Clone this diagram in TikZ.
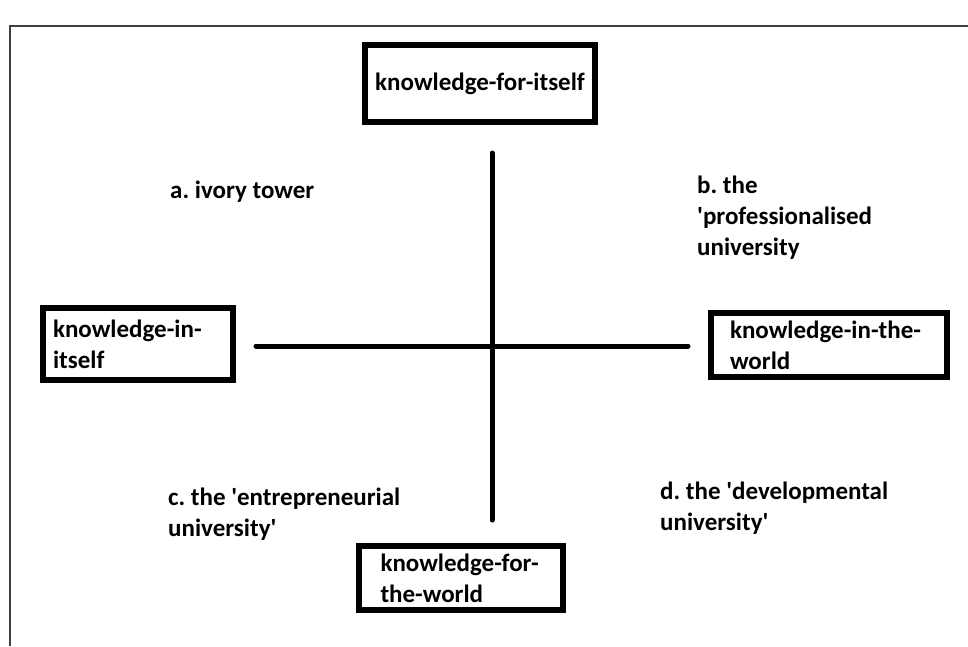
\documentclass[tikz,border=0pt]{standalone}
\usepackage{fontspec}
\setmainfont{Carlito}
\frenchspacing
\tikzset{
  boxtext/.style={font=\bfseries\fontsize{25}{31}\selectfont},
  axisline/.style={line width=5pt,line cap=round}
}
\begin{document}
\begin{tikzpicture}[x=1pt,y=-1pt]
  \useasboundingbox (0,0) rectangle (968,646);
  \draw[line width=1.2pt,black!75] (10,646) |- (968,26);

  \begin{scope}[every node/.style={draw,line width=6pt,boxtext}]
    \node[minimum width=230pt,minimum height=77pt] (forself) at (480,83.5) {knowledge-for-itself};
    \node[text width=170pt,align=left,inner xsep=10pt,minimum height=72pt] (inself) at (138,344) {knowledge-in-\\itself};
    \node[text width=198pt,align=left,inner xsep=19pt,minimum height=64pt] (inworld) at (829,345) {knowledge-in-the-\\world};
    \node[text width=160pt,align=left,inner xsep=22pt,minimum height=64pt] (forworld) at (460.5,578) {knowledge-for-\\the-world};
  \end{scope}

  \coordinate (vtop) at (492,153);
  \coordinate (vbot) at (492,520);
  \coordinate (hleft) at (256,346);
  \coordinate (hright) at (688,346);
  \draw[axisline] (vtop) -- (vbot);
  \draw[axisline] (hleft) -- (hright);

  \begin{scope}[every node/.style={anchor=north west,inner sep=0pt,align=left,boxtext}]
    \node (ivory) at (170,181) {a. ivory tower};
    \node (prof) at (697,176) {b. the\\\textquotesingle professionalised\\university};
    \node (entre) at (168,488) {c. the \textquotesingle entrepreneurial\\university\textquotesingle};
    \node (devel) at (660,482) {d. the \textquotesingle developmental\\university\textquotesingle};
  \end{scope}
\end{tikzpicture}
\end{document}
